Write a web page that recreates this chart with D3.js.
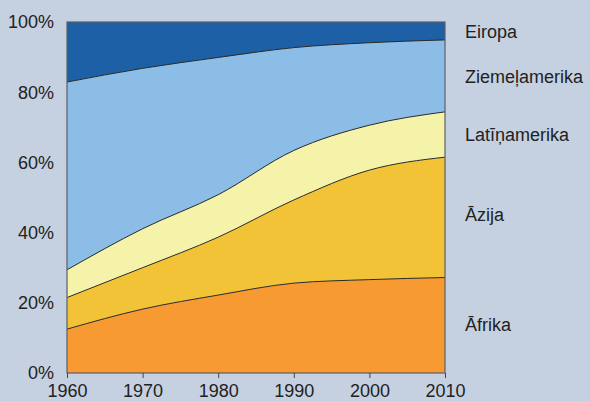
<!DOCTYPE html>
<html>
<head>
<meta charset="utf-8">
<script src="https://cdn.jsdelivr.net/npm/d3@7"></script>
<style>
  body { margin: 0; background: #c5d1e1; }
  svg { display: block; font-family: "Liberation Sans", Arial, sans-serif; }
</style>
</head>
<body>
<svg id="chart"></svg>
<script>
// years on the x axis
var years = [1960, 1970, 1980, 1990, 2000, 2010];
// share of each region, percent
var afrika = [12.5, 18.2, 22.2, 25.6, 26.6, 27.2];
var azija = [9.0, 11.8, 16.5, 23.7, 31.2, 34.3];
var latinamerika = [7.9, 11.1, 12.1, 14.1, 12.8, 12.9];
var ziemelamerika = [53.5, 45.7, 39.1, 29.3, 23.5, 20.5];
var eiropa = [17.1, 13.2, 10.1, 7.3, 5.9, 5.1];
var regionNames = ["Āfrika", "Āzija", "Latīņamerika", "Ziemeļamerika", "Eiropa"];
var yTicks = [0, 20, 40, 60, 80, 100];

var width = 590, height = 401;
var margin = {top: 22, right: 145, bottom: 28, left: 67};
var colors = ["#f79a32", "#f2c336", "#f4f3a9", "#8bbde6", "#1e60a6"];

var svg = d3.select("#chart").attr("width", width).attr("height", height);

var rows = years.map(function(y, i) {
	return {year: y, r0: afrika[i], r1: azija[i], r2: latinamerika[i], r3: ziemelamerika[i], r4: eiropa[i]};
});
var keys = ["r0", "r1", "r2", "r3", "r4"];
var series = d3.stack().keys(keys)(rows);

var x = d3.scaleLinear().domain([1960, 2010]).range([margin.left, width - margin.right]);
var y = d3.scaleLinear().domain([0, 100]).range([height - margin.bottom, margin.top]);

var area = d3.area()
	.x(function(d) { return x(d.data.year); })
	.y0(function(d) { return y(d[0]); })
	.y1(function(d) { return y(d[1]); })
	.curve(d3.curveMonotoneX);

var line = d3.line()
	.x(function(d) { return x(d.data.year); })
	.y(function(d) { return y(d[1]); })
	.curve(d3.curveMonotoneX);

var g = svg.append("g");
g.selectAll("path.area").data(series).enter().append("path")
	.attr("class", "area")
	.attr("fill", function(d, i) { return colors[i]; })
	.attr("d", area);

g.selectAll("path.edge").data(series.slice(0, 4)).enter().append("path")
	.attr("class", "edge")
	.attr("fill", "none")
	.attr("stroke", "#2a2a2a")
	.attr("stroke-width", 1)
	.attr("d", line);

// frame
svg.append("rect")
	.attr("x", x(1960)).attr("y", y(100))
	.attr("width", x(2010) - x(1960)).attr("height", y(0) - y(100))
	.attr("fill", "none").attr("stroke", "#5a5f66").attr("stroke-width", 1.2);

// y axis labels
svg.selectAll("text.ylab").data(yTicks).enter().append("text")
	.attr("class", "ylab")
	.attr("x", 54).attr("y", function(d) { return y(d); })
	.attr("dy", "0.35em")
	.attr("text-anchor", "end")
	.attr("font-size", 18).attr("fill", "#222")
	.text(function(d) { return d + "%"; });

// x axis
var xAxis = d3.axisBottom(x).tickValues(years).tickFormat(d3.format("d")).tickSize(5).tickPadding(6);
var ax = svg.append("g").attr("transform", "translate(0," + y(0) + ")").call(xAxis);
ax.select(".domain").remove();
ax.selectAll(".tick line").attr("stroke", "#444");
ax.selectAll(".tick text").attr("font-size", 18).attr("fill", "#222")
	.attr("font-family", "Liberation Sans, Arial, sans-serif");

// region labels, placed beside each band at 2010
var labelY = [325, 215, 135, 77, 32];
svg.selectAll("text.reg").data(regionNames).enter().append("text")
	.attr("class", "reg")
	.attr("x", 465)
	.attr("y", function(d, i) { return labelY[i]; })
	.attr("dy", "0.35em")
	.attr("font-size", 18).attr("fill", "#222")
	.text(function(d) { return d; });
</script>
</body>
</html>
